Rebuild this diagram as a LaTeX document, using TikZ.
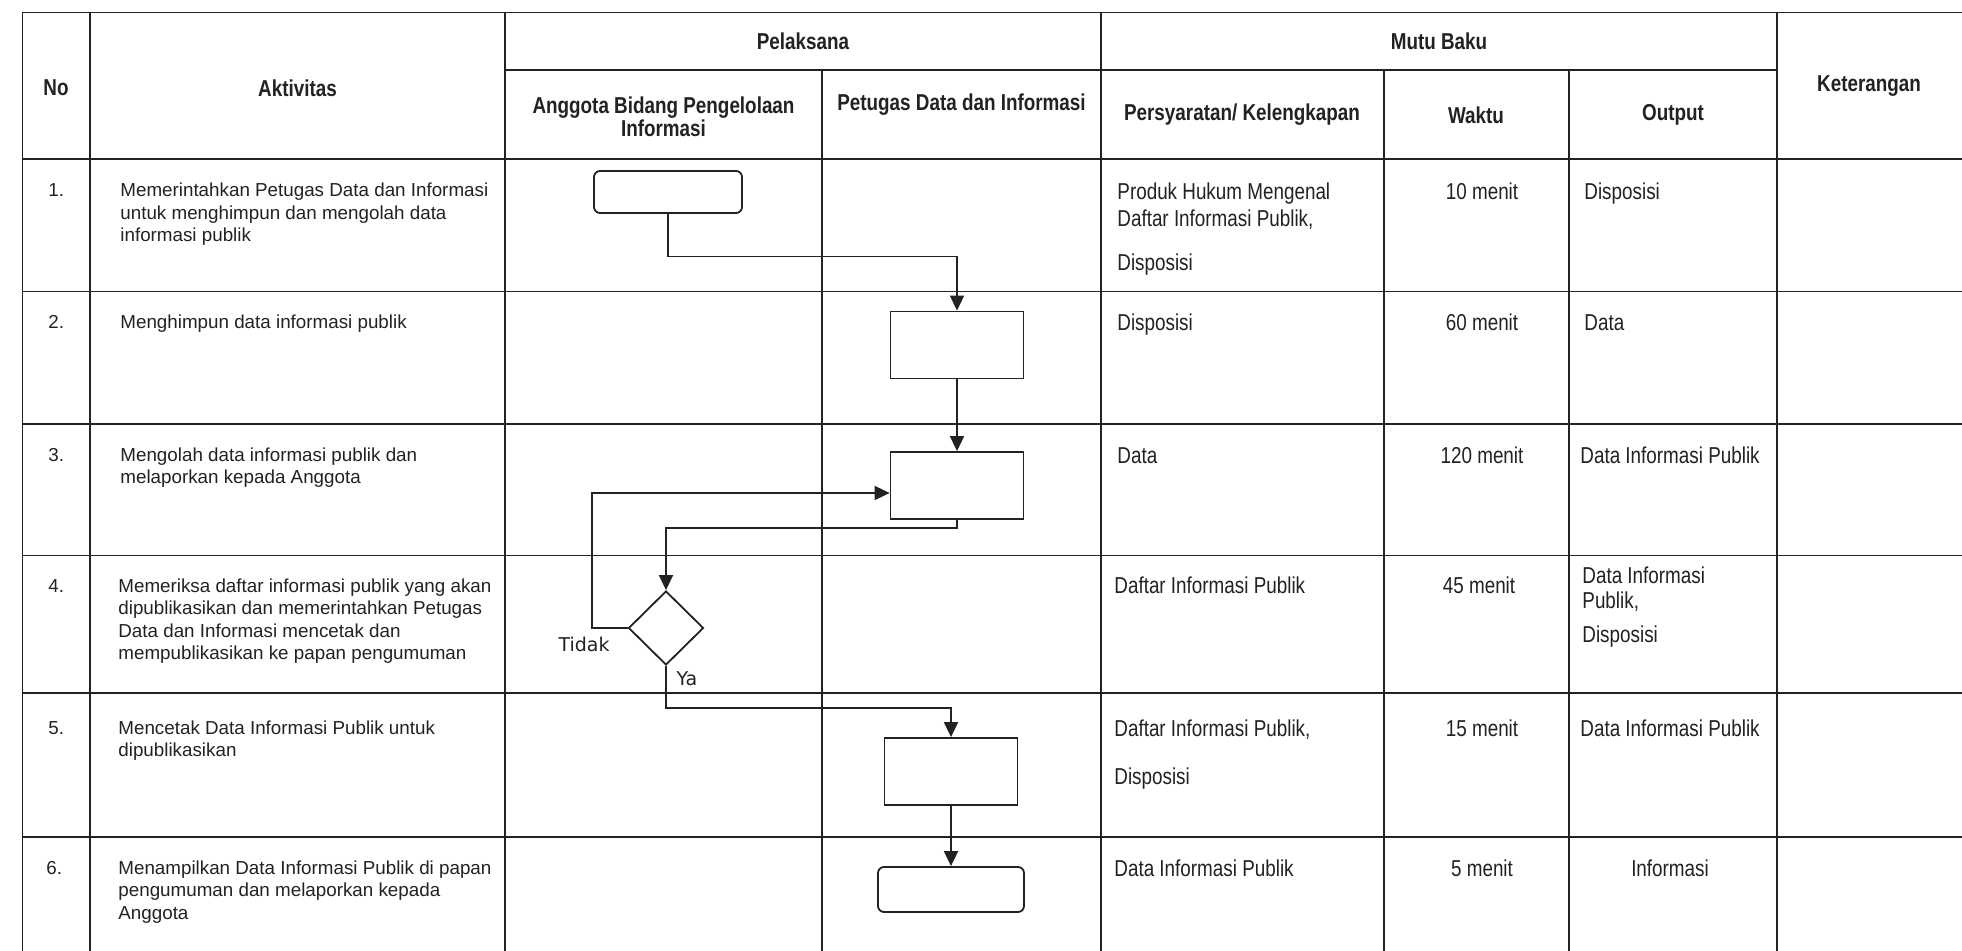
\documentclass[tikz,border=0pt]{standalone}
\usepackage{fontspec}
\setmainfont{Liberation Sans}
\newfontfamily\narrowf{Liberation Sans}[FakeStretch=0.82]
\newfontfamily\verdf{DejaVu Sans}
\usetikzlibrary{shapes.geometric,arrows.meta}
\definecolor{ink}{HTML}{222222}
\begin{document}
\begin{tikzpicture}[x=0.5pt,y=-0.5pt,
  grid/.style={draw=ink, line width=0.8pt},
  flow/.style={draw=ink, line width=0.9pt},
  arr/.style={draw=ink, line width=0.9pt, -{Triangle[length=7.5pt,width=7pt]}},
  proc/.style={flow, rectangle, minimum width=66.5pt, minimum height=33.5pt, inner sep=0pt},
  term/.style={flow, rectangle, rounded corners=3pt, inner sep=0pt},
  dec/.style={flow, diamond, minimum width=37.5pt, minimum height=37pt, inner sep=0pt},
  act/.style={anchor=base west, inner sep=0pt, align=left, font=\fontsize{9.4}{11.25}\selectfont, text=ink},
  mb/.style={anchor=base west, inner sep=0pt, align=left, font=\narrowf\fontsize{11.5}{13.8}\selectfont, text=ink},
  mbc/.style={mb, anchor=base},
  hd/.style={inner sep=0pt, align=center, font=\narrowf\bfseries\fontsize{11.5}{11.3}\selectfont, text=ink},
  lbl/.style={inner sep=0pt, font=\verdf\fontsize{9.5}{11}\selectfont, text=ink}]
\useasboundingbox (0,0) rectangle (1962,951);
\fill[white] (0,0) rectangle (1962,951);

% table grid
\draw[grid] (22.5,12.5) -- (1962,12.5);
\draw[grid] (505,70) -- (1777,70);
\foreach \yy in {159,291.5,424,555.5,693,837}
  \draw[grid] (22.5,\yy) -- (1962,\yy);
\foreach \xx in {22.5,90,505,1101,1777}
  \draw[grid] (\xx,12.5) -- (\xx,951);
\foreach \xx in {822,1384,1569}
  \draw[grid] (\xx,70) -- (\xx,951);

% headers
\node[hd] (hNo) at (56,88) {No};
\node[hd] (hAkt) at (297.5,88) {Aktivitas};
\node[hd] (hPel) at (803,41) {Pelaksana};
\node[hd] (hMB) at (1439,41) {Mutu Baku};
\node[hd] (hKet) at (1869,86) {Keterangan};
\node[hd] (hAng) at (663.5,117) {Anggota Bidang Pengelolaan\\Informasi};
\node[hd] (hPet) at (961.5,105) {Petugas Data dan Informasi};
\node[hd] (hPer) at (1242,115) {Persyaratan/ Kelengkapan};
\node[hd] (hWak) at (1476,115) {Waktu};
\node[hd] (hOut) at (1673,115) {Output};

% numbers
\node[act] (n1) at (48,197) {1.};
\node[act] (n2) at (48,329) {2.};
\node[act] (n3) at (48,461) {3.};
\node[act] (n4) at (48,592) {4.};
\node[act] (n5) at (48,734) {5.};
\node[act] (n6) at (46,874) {6.};

% activities (base anchor = baseline of last line)
\node[act] (a1) at (120,242) {Memerintahkan Petugas Data dan Informasi\\untuk menghimpun dan mengolah data\\informasi publik};
\node[act] (a2) at (120,329) {Menghimpun data informasi publik};
\node[act] (a3) at (120,483.5) {Mengolah data informasi publik dan\\melaporkan kepada Anggota};
\node[act] (a4) at (118,659.5) {Memeriksa daftar informasi publik yang akan\\dipublikasikan dan memerintahkan Petugas\\Data dan Informasi mencetak dan\\mempublikasikan ke papan pengumuman};
\node[act] (a5) at (118,756.5) {Mencetak Data Informasi Publik untuk\\dipublikasikan};
\node[act] (a6) at (118,919) {Menampilkan Data Informasi Publik di papan\\pengumuman dan melaporkan kepada\\Anggota};

% mutu baku: persyaratan
\node[mb] (p1a) at (1117,227) {Produk Hukum Mengenal\\Daftar Informasi Publik,};
\node[mb] (p1b) at (1117,271) {Disposisi};
\node[mb] (p2) at (1117,331) {Disposisi};
\node[mb] (p3) at (1117,463.5) {Data};
\node[mb] (p4) at (1114,593.5) {Daftar Informasi Publik};
\node[mb] (p5a) at (1114,736) {Daftar Informasi Publik,};
\node[mb] (p5b) at (1114,784) {Disposisi};
\node[mb] (p6) at (1114,876) {Data Informasi Publik};

% waktu
\node[mbc] (w1) at (1482,199.5) {10 menit};
\node[mbc] (w2) at (1482,331) {60 menit};
\node[mbc] (w3) at (1482,463.5) {120 menit};
\node[mbc] (w4) at (1479,593.5) {45 menit};
\node[mbc] (w5) at (1482,736) {15 menit};
\node[mbc] (w6) at (1482,876) {5 menit};

% output
\node[mb] (o1) at (1584,199.5) {Disposisi};
\node[mb] (o2) at (1584,331) {Data};
\node[mb] (o3) at (1580,463.5) {Data Informasi Publik};
\node[mb] (o4a) at (1582,583.5) {Data Informasi};
\node[mb] (o4b) at (1582,608.5) {Publik,};
\node[mb] (o4c) at (1582,642.4) {Disposisi};
\node[mb] (o5) at (1580,736) {Data Informasi Publik};
\node[mbc] (o6) at (1670,876) {Informasi};

% flowchart
\node[term, minimum width=74pt, minimum height=21pt] (s1) at (668,192) {};
\node[proc] (b2) at (957,345) {};
\node[proc] (b3) at (957,485.5) {};
\node[dec] (d4) at (666,628) {};
\node[proc] (b5) at (951,771.5) {};
\node[term, minimum width=73pt, minimum height=22.5pt] (e6) at (951,889.5) {};

\coordinate (y1) at (0,256.5);
\coordinate (y3) at (0,528);
\coordinate (loopc) at (592,493);
\coordinate (y4) at (0,708);

\draw[arr] (s1.south) -- (s1.south |- y1) -| (b2.north);
\draw[arr] (b2.south) -- (b3.north);
\draw[arr] (b3.south) -- (b3.south |- y3) -| (d4.north);
\draw[arr] (d4.west) -| (loopc) -- (b3.west |- loopc);
\draw[arr] (d4.south) -- (d4.south |- y4) -| (b5.north);
\draw[arr] (b5.south) -- (e6.north);

\node[lbl] (tidak) at (584,644) {Tidak};
\node[lbl] (ya) at (687,679) {Ya};
\end{tikzpicture}
\end{document}
